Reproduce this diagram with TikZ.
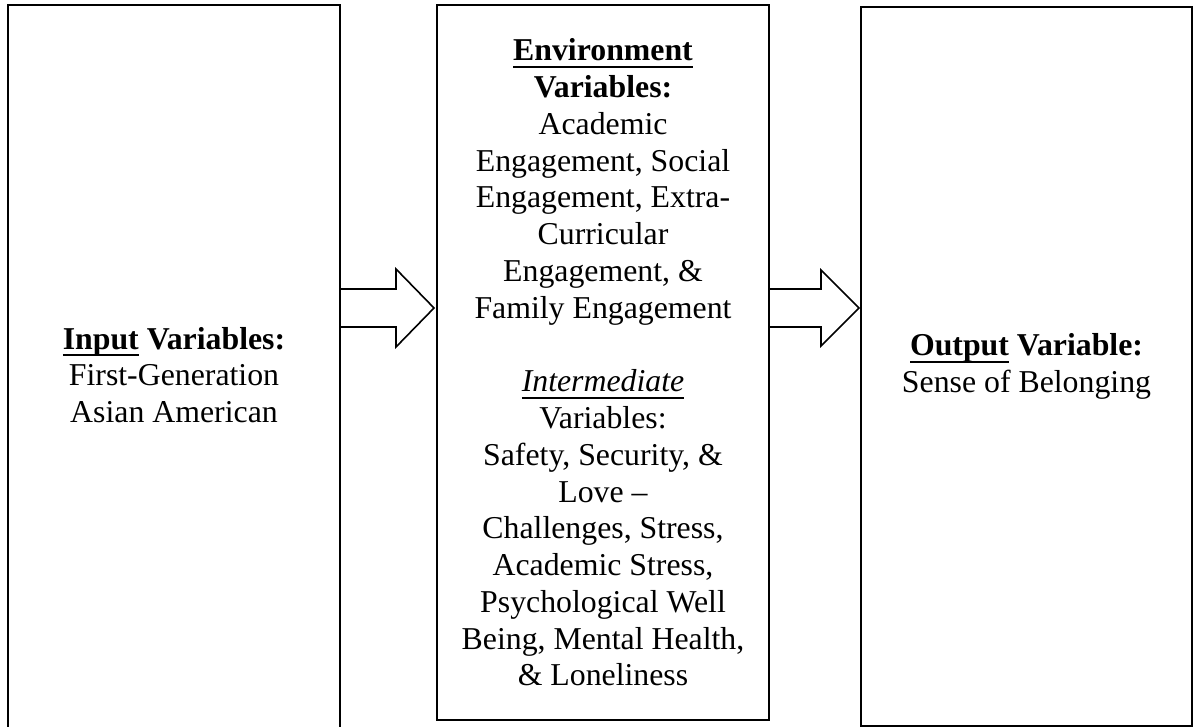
\documentclass[tikz,border=0pt]{standalone}
\usepackage{fontspec}
\setmainfont{Liberation Serif}
\usetikzlibrary{calc}
% underline at a fixed depth below the baseline
\newcommand\undl[1]{\setbox0\hbox{#1}\rlap{\rule[-3.5pt]{\wd0}{1pt}}\box0\relax}
\begin{document}
\begin{tikzpicture}[x=0.5pt,y=-0.5pt,
  varbox/.style={draw, line width=1pt, inner sep=0pt, align=center,
    font=\fontsize{15.9pt}{18.38pt}\selectfont},
  blockarrow/.style={draw, fill=white, line width=0.8pt, line join=miter}]
\useasboundingbox (0,0) rectangle (1193,727);

% the three boxes
\node[varbox, minimum width=166pt, minimum height=370pt] (in) at (174,375)
  {\textbf{\undl{Input} Variables:}\\First-Generation\\Asian American};
\node[varbox, minimum width=166pt, minimum height=357.5pt] (mid) at (603,362.5)
  {\textbf{\undl{Environment}}\\
   \textbf{Variables:}\\
   Academic\\
   Engagement, Social\\
   Engagement, Extra-\\
   Curricular\\
   Engagement, \&\\
   Family Engagement\\[18.38pt]
   \undl{\textit{Intermediate}}\\
   Variables:\\
   Safety, Security, \&\\
   Love –\\
   Challenges, Stress,\\
   Academic Stress,\\
   Psychological Well\\
   Being, Mental Health,\\
   \& Loneliness};
\node[varbox, minimum width=165.5pt, minimum height=359.5pt] (out) at (1026.5,366.5)
  {\textbf{\undl{Output} Variable:}\\Sense of Belonging};

% level of the arrow axes
\coordinate (ay) at (0,308);

% block arrows between the boxes
\draw[blockarrow] ($(in.east |- ay)+(0,-19)$) -- ($(mid.west |- ay)+(-40,-19)$)
  -- ($(mid.west |- ay)+(-40,-39)$) -- ($(mid.west |- ay)+(-2,0)$)
  -- ($(mid.west |- ay)+(-40,39)$) -- ($(mid.west |- ay)+(-40,19)$)
  -- ($(in.east |- ay)+(0,19)$);
\draw[blockarrow] ($(mid.east |- ay)+(0,-19)$) -- ($(out.west |- ay)+(-39,-19)$)
  -- ($(out.west |- ay)+(-39,-38)$) -- ($(out.west |- ay)+(-1,0)$)
  -- ($(out.west |- ay)+(-39,38)$) -- ($(out.west |- ay)+(-39,19)$)
  -- ($(mid.east |- ay)+(0,19)$);
\end{tikzpicture}
\end{document}
